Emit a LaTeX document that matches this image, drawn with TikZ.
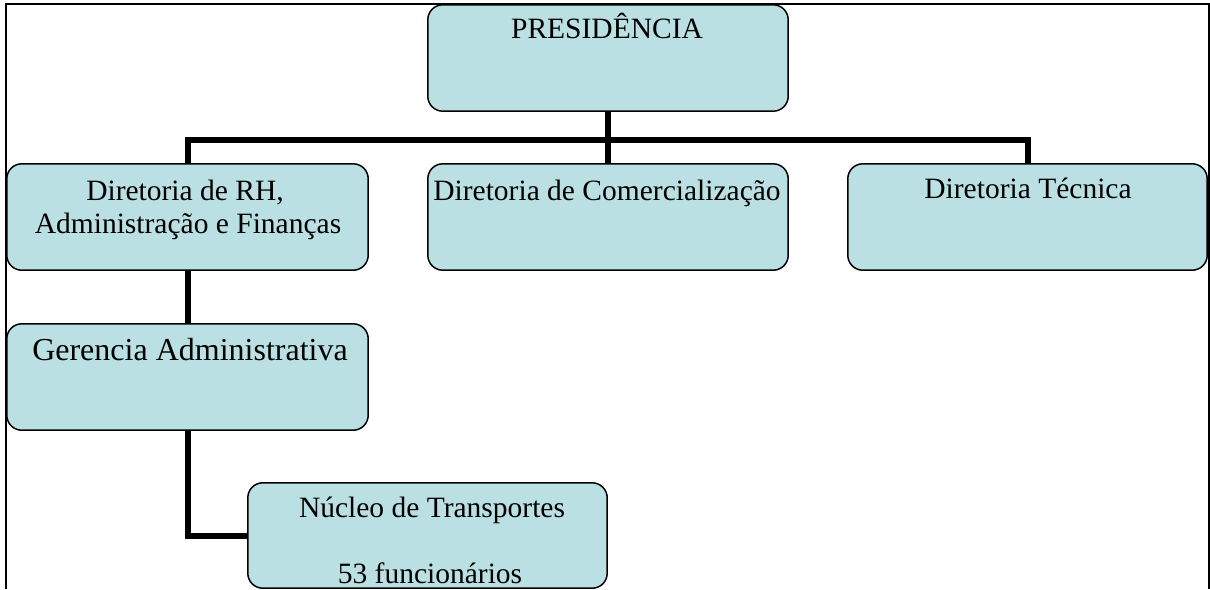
\documentclass[tikz,border=0pt]{standalone}
\usepackage{fontspec}
\setmainfont{Liberation Serif}
\definecolor{boxfill}{HTML}{BBE0E3}
\begin{document}
\begin{tikzpicture}[x=1pt,y=-1pt,
  box/.style={draw=black, line width=1.5pt, fill=boxfill, rounded corners=15pt, inner sep=0pt},
  conn/.style={draw=black, line width=6pt, line join=miter},
  frameline/.style={draw=black, line width=2pt},
  txt/.style={anchor=base, inner sep=0pt, font=\fontsize{29.5}{34}\selectfont},
  bigtxt/.style={anchor=base, inner sep=0pt, font=\fontsize{32}{37}\selectfont}]
\useasboundingbox (0,0) rectangle (1210,589);
\draw[frameline] (6,589) -- (6,4) -- (1209,4) -- (1209,589);
% box placeholders (for anchors)
\path (608,58) node[minimum width=360pt, minimum height=106pt, inner sep=0pt] (pres) {};
\path (187.5,217) node[minimum width=361pt, minimum height=106pt, inner sep=0pt] (rh) {};
\path (608,217) node[minimum width=360pt, minimum height=106pt, inner sep=0pt] (com) {};
\path (1027.5,217) node[minimum width=359pt, minimum height=106pt, inner sep=0pt] (tec) {};
\path (187.5,377) node[minimum width=361pt, minimum height=106pt, inner sep=0pt] (ger) {};
\path (427.5,535.5) node[minimum width=359pt, minimum height=105pt, inner sep=0pt] (nuc) {};
\coordinate (bus) at (608,140);
% connectors
\draw[conn] (pres.south) -- (com.north);
\draw[conn] (rh.north) |- (bus) -| (tec.north);
\draw[conn] (rh.south) -- (ger.north);
\draw[conn] (ger.south) |- (nuc.west);
% boxes
\draw[box] (pres.south west) rectangle (pres.north east);
\draw[box] (rh.south west) rectangle (rh.north east);
\draw[box] (com.south west) rectangle (com.north east);
\draw[box] (tec.south west) rectangle (tec.north east);
\draw[box] (ger.south west) rectangle (ger.north east);
\draw[box] (nuc.south west) rectangle (nuc.north east);
% texts
\node[txt] (tpres) at (607,38) {PRESIDÊNCIA};
\node[txt] (trh1) at (185,200) {Diretoria de RH,};
\node[txt] (trh2) at (188,233) {Administração e Finanças};
\node[txt] (tcom) at (607,200) {Diretoria de Comercialização};
\node[txt] (ttec) at (1028,198) {Diretoria Técnica};
\node[bigtxt] (tger) at (190,360) {Gerencia Administrativa};
\node[txt] (tnuc1) at (432,517) {Núcleo de Transportes};
\node[txt] (tnuc2) at (430,583) {53 funcionários};
\end{tikzpicture}
\end{document}
